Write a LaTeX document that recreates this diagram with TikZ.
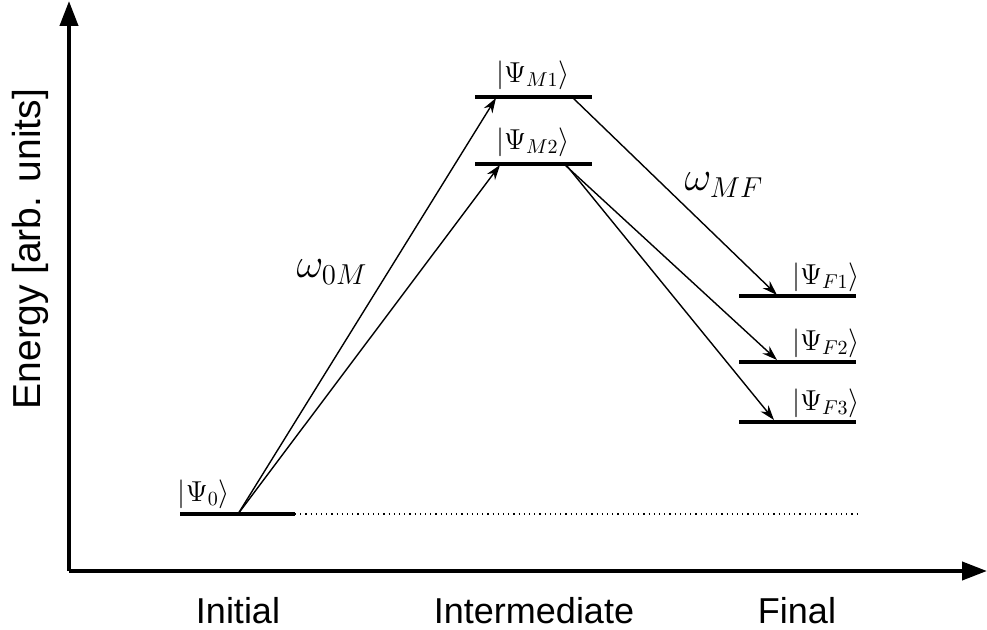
\documentclass[tikz,border=0pt]{standalone}
\usepackage{fontspec}
\setsansfont{Liberation Sans}
\usetikzlibrary{arrows.meta}
\begin{document}
\begin{tikzpicture}[x=0.5pt,y=-0.5pt,
  axis/.style={line width=2pt,-{Triangle[length=12.5pt,width=9pt]}},
  level/.style={line width=1.6pt},
  trans/.style={line width=0.7pt,-{Stealth[length=7.5pt,width=5pt]}},
  ket/.style={inner sep=0pt,font=\fontsize{14.5}{17}\selectfont},
  freq/.style={inner sep=0pt,font=\fontsize{22}{26}\selectfont},
  axlab/.style={inner sep=0pt,font=\sffamily\fontsize{18}{21}\selectfont}]
\useasboundingbox (0,0) rectangle (987,630);
% axes
\coordinate (O) at (69,571);
\coordinate (Ytop) at (69,1);
\coordinate (Xend) at (987,571);
\draw[axis] (O) -- (Ytop);
\draw[axis] (O) -- (Xend);
% levels
\coordinate (g1) at (180,514); \coordinate (g2) at (295,514);
\coordinate (g0) at (238,514); \coordinate (gd) at (858,514);
\coordinate (m1a) at (475,97); \coordinate (m1b) at (592,97);
\coordinate (m2a) at (475,164); \coordinate (m2b) at (592,164);
\coordinate (f1a) at (739,296); \coordinate (f1b) at (856,296);
\coordinate (f2a) at (739,362); \coordinate (f2b) at (856,362);
\coordinate (f3a) at (739,422); \coordinate (f3b) at (856,422);
\draw[level] (g1) -- (g2);
\draw[dotted,line width=0.6pt] (g2) -- (gd);
\draw[level] (m1a) -- (m1b);
\draw[level] (m2a) -- (m2b);
\draw[level] (f1a) -- (f1b);
\draw[level] (f2a) -- (f2b);
\draw[level] (f3a) -- (f3b);
% transition endpoints
\coordinate (tM1) at (496,98);
\coordinate (tM2) at (500,165);
\coordinate (sM1) at (572,97);
\coordinate (sM2) at (565,165);
\coordinate (sM3) at (567,166);
\coordinate (tF1) at (777,295);
\coordinate (tF2) at (777,360);
\coordinate (tF3) at (774,420);
\draw[trans] (g0) -- (tM1);
\draw[trans] (g0) -- (tM2);
\draw[trans] (sM1) -- (tF1);
\draw[trans] (sM2) -- (tF2);
\draw[trans] (sM3) -- (tF3);
% labels
\node[ket] (k0) at (204,494) {$|\Psi_0\rangle$};
\node[ket] (kM1) at (533,75) {$|\Psi_{M1}\rangle$};
\node[ket] (kM2) at (533,142) {$|\Psi_{M2}\rangle$};
\node[ket] (kF1) at (826,277) {$|\Psi_{F1}\rangle$};
\node[ket] (kF2) at (826,343) {$|\Psi_{F2}\rangle$};
\node[ket] (kF3) at (826,403) {$|\Psi_{F3}\rangle$};
\node[freq] (w0M) at (332,272) {$\omega_{0M}$};
\node[freq] (wMF) at (724,185) {$\omega_{MF}$};
\node[axlab] (li) at (238,611) {Initial};
\node[axlab] (lm) at (534,611) {Intermediate};
\node[axlab] (lf) at (797,611) {Final};
\node[axlab,rotate=90,font=\sffamily\fontsize{19.5}{22}\selectfont] (le) at (30,249) {Energy [arb. units]};
\end{tikzpicture}
\end{document}
